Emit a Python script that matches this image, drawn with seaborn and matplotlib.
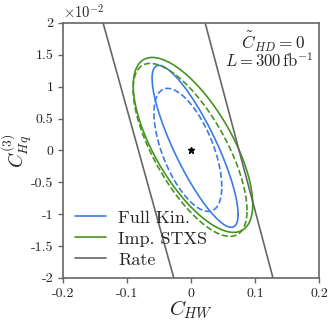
import numpy as np
import pandas as pd
import matplotlib
matplotlib.use("Agg")
import matplotlib.pyplot as plt
import seaborn as sns

# contour ellipses (y in units of 1e-2)
# order: Full Kin. solid, Full Kin. dashed, Imp. STXS solid, Imp. STXS dashed
contour_names = ["fullkin_solid", "fullkin_dashed", "stxs_solid", "stxs_dashed"]
center_x = [0.0063, -0.005, 0.003, -0.0016]
center_y = [0.063, 0.008, 0.086, 0.008]
half_width = [0.0672, 0.053, 0.0934, 0.089]
half_height = [1.27, 0.965, 1.372, 1.357]
correlation = [-0.84, -0.60, -0.68, -0.70]

# rate band edges (endpoints at y = +2 and y = -2)
rate_left_x = [-0.1375, -0.027]
rate_right_x = [0.022, 0.128]
rate_y = [2.0, -2.0]

best_fit = (0.0, 0.0)

x_ticks = [-0.2, -0.1, 0, 0.1, 0.2]
y_ticks = [-2, -1.5, -1, -0.5, 0, 0.5, 1, 1.5, 2]

BLUE = "#3b7be6"
GREEN = "#45951f"
GREY = "#666666"

sns.set_style("ticks")
plt.rcParams["font.family"] = "serif"
plt.rcParams["font.serif"] = ["cmr10"]
plt.rcParams["mathtext.fontset"] = "cm"
plt.rcParams["axes.unicode_minus"] = False
plt.rcParams["font.size"] = 10


def ellipse_frame(i):
    t = np.linspace(0, 2 * np.pi, 300)
    r = correlation[i]
    x = center_x[i] + half_width[i] * np.cos(t)
    y = center_y[i] + half_height[i] * (r * np.cos(t) + np.sqrt(1 - r ** 2) * np.sin(t))
    return pd.DataFrame({"x": x, "y": y})


fig = plt.figure(figsize=(3.32, 3.32), dpi=100)
ax = fig.add_axes([0.19, 0.163, 0.771, 0.768])

styles = [
    (BLUE, "-", "Full Kin."),
    (BLUE, "--", None),
    (GREEN, "-", "Imp. STXS"),
    (GREEN, "--", None),
]
for i, (c, ls, lab) in enumerate(styles):
    df = ellipse_frame(i)
    sns.lineplot(data=df, x="x", y="y", sort=False, estimator=None, color=c,
                 linestyle=ls, lw=1.2, ax=ax, label=lab)

rate = pd.DataFrame({"x": rate_left_x, "y": rate_y})
sns.lineplot(data=rate, x="x", y="y", sort=False, estimator=None, color=GREY,
             lw=1.2, ax=ax, label="Rate")
rate2 = pd.DataFrame({"x": rate_right_x, "y": rate_y})
sns.lineplot(data=rate2, x="x", y="y", sort=False, estimator=None, color=GREY,
             lw=1.2, ax=ax, legend=False)

ax.plot([best_fit[0]], [best_fit[1]], marker="*", color="black", ms=5, ls="none")

ax.set_xlim(-0.2, 0.2)
ax.set_ylim(-2, 2)
ax.set_xticks(x_ticks)
ax.set_yticks(y_ticks)
ax.set_xticklabels(["%g" % v for v in x_ticks])
ax.set_yticklabels(["%g" % v for v in y_ticks])
ax.tick_params(direction="out", length=3.5, width=1, color=GREY, labelsize=10)
for s in ax.spines.values():
    s.set_color(GREY)
    s.set_linewidth(1.2)

ax.set_xlabel(r"$C_{HW}$", fontsize=15)
ax.set_ylabel(r"$C^{(3)}_{Hq}$", fontsize=14)
ax.xaxis.set_label_coords(0.5, -0.08)
ax.yaxis.set_label_coords(-0.115, 0.5)
ax.text(0.0, 1.01, r"$\times10^{-2}$", transform=ax.transAxes, ha="left", va="bottom", fontsize=10.5)
ax.text(0.945, 0.972, r"$\tilde{C}_{HD}=0$", transform=ax.transAxes, ha="right", va="top", fontsize=12.5)
ax.text(0.98, 0.887, r"$L=300\,\mathrm{fb}^{-1}$", transform=ax.transAxes, ha="right", va="top", fontsize=12)

ax.legend(loc="lower left", bbox_to_anchor=(0.045, 0.04), frameon=False, fontsize=13,
          handlelength=1.75, handletextpad=0.65, borderpad=0, borderaxespad=0,
          labelspacing=0.3)

fig.savefig("out.png", dpi=100)
